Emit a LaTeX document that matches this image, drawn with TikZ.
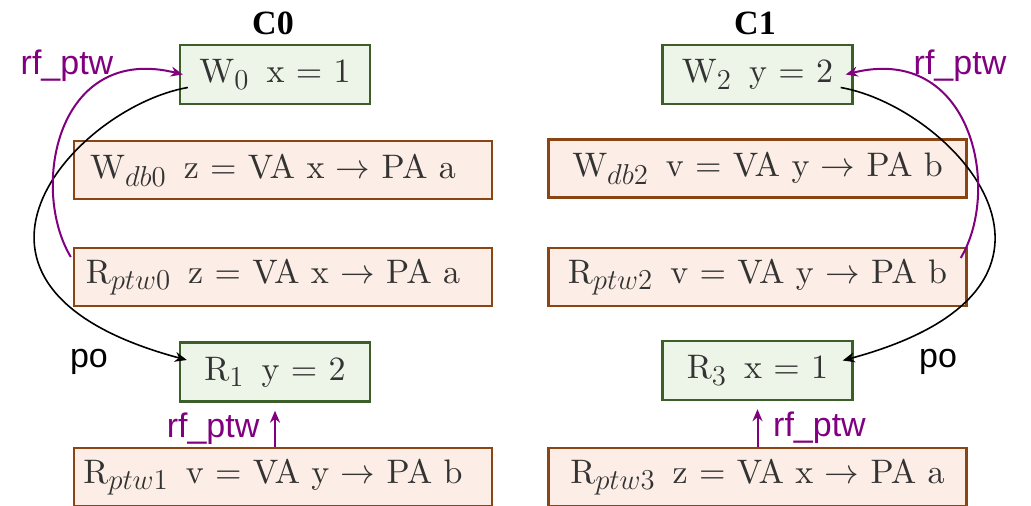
\documentclass[tikz,border=0pt]{standalone}
\usepackage{fontspec}
\newfontfamily\boxfont{lmroman10-regular.otf}
\newfontfamily\lblfont{Liberation Sans}
\newfontfamily\headfont{Liberation Serif}
\usetikzlibrary{arrows.meta,positioning}
\DeclareMathSizes{17}{17}{14.5}{11}
\definecolor{wrgreen}{HTML}{3C5F2A}
\definecolor{wrfill}{HTML}{EDF5E8}
\definecolor{ptbrown}{HTML}{8B4513}
\definecolor{ptfill}{HTML}{FCEEE6}
\definecolor{rfpurple}{HTML}{800080}

\begin{document}
\begin{tikzpicture}[x=0.5pt, y=0.5pt,
    every node/.style={font=\boxfont\fontsize{17}{20}\selectfont},
    evbox/.style={draw=wrgreen, fill=wrfill, line width=1.2pt, text=black!80,
        minimum width=95pt, minimum height=29.5pt, inner sep=0pt},
    ptwbox/.style={draw=ptbrown, fill=ptfill, line width=1.2pt, text=black!80,
        minimum width=209pt, minimum height=29pt, inner sep=0pt},
    padright/.style={execute at end node={\hspace{10pt}}},
    po/.style={-{Stealth[length=6pt,width=5pt]}, line width=0.8pt},
    rf/.style={-{Stealth[length=6pt,width=5pt]}, rfpurple, line width=1pt},
    lbl/.style={font=\lblfont\fontsize{17}{20}\selectfont},
    core/.style={font=\headfont\bfseries\fontsize{17}{20}\selectfont, anchor=base}]
    \useasboundingbox (0,0) rectangle (1031,-506);

    % --- Core C0 ---
    \node[core] (c0) at (273,-35) {C0};
    \node[evbox] (w0) at (275,-74.5) {W$_0$\,~x = 1};
    \node[ptwbox, padright] (wdb0) at (283,-170) {W$_{db0}$\,~z = VA x $\rightarrow$ PA a};
    \node[ptwbox, padright] (rptw0) at (283,-277) {R$_{ptw0}$\,~z = VA x $\rightarrow$ PA a};
    \node[evbox] (r1) at (275,-372) {R$_1$\,~y = 2};
    \node[ptwbox, padright] (rptw1) at (283,-477) {R$_{ptw1}$\,~v = VA y $\rightarrow$ PA b};

    % --- Core C1 ---
    \node[core] (c1) at (755,-35) {C1};
    \node[evbox] (w2) at (757.5,-74.5) {W$_2$\,~y = 2};
    \node[ptwbox] (wdb2) at (757.5,-168.5) {W$_{db2}$\,~v = VA y $\rightarrow$ PA b};
    \node[ptwbox] (rptw2) at (757.5,-277) {R$_{ptw2}$\,~v = VA y $\rightarrow$ PA b};
    \node[evbox] (r3) at (757.5,-370.5) {R$_3$\,~x = 1};
    \node[ptwbox] (rptw3) at (757.5,-477) {R$_{ptw3}$\,~z = VA x $\rightarrow$ PA a};

    % po edges
    \draw[po] ([xshift=4.5pt,yshift=-6.5pt]w0.west) .. controls +(190:115) and +(165:285) .. ([xshift=4pt,yshift=6pt]r1.west);
    \draw[po] ([xshift=-6.5pt,yshift=-6.5pt]w2.east) .. controls +(-10:115) and +(15:285) .. ([xshift=-5.5pt,yshift=5pt]r3.east);
    \node[lbl, anchor=base] (po0) at (89,-368) {po};
    \node[lbl, anchor=base] (po1) at (938,-368) {po};

    % rf_ptw edges
    \draw[rf] ([xshift=-1pt,yshift=10pt]rptw0.west) .. controls +(121:80) and +(166:130) .. ([xshift=2pt]w0.west);
    \draw[rf] ([xshift=-3.5pt,yshift=9.5pt]rptw2.east) .. controls +(59:80) and +(14:130) .. ([xshift=-4pt]w2.east);
    \node[lbl, rfpurple, anchor=base] (rf0) at (67,-75) {rf\_ptw};
    \node[lbl, rfpurple, anchor=base] (rf2) at (960,-75) {rf\_ptw};

    \draw[rf] (rptw1.north -| r1.south) -- ([yshift=-4pt]r1.south)
        node[midway, left=4pt, lbl, rfpurple] {rf\_ptw};
    \draw[rf] (rptw3.north -| r3.south) -- ([yshift=-4pt]r3.south)
        node[midway, right=4pt, lbl, rfpurple] {rf\_ptw};
\end{tikzpicture}
\end{document}
